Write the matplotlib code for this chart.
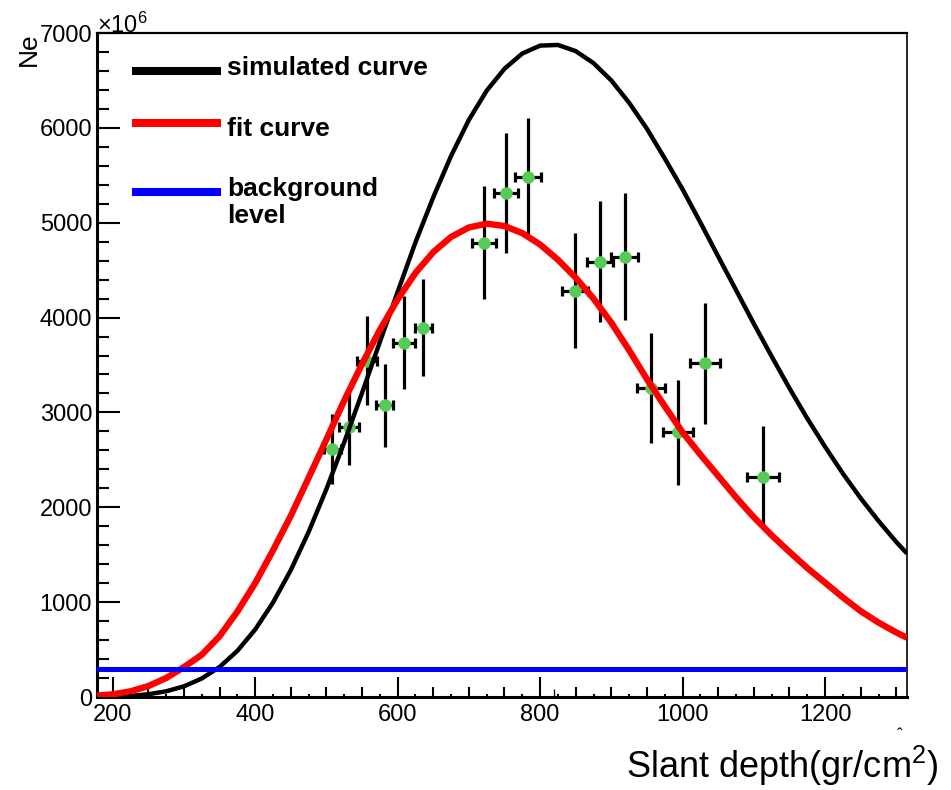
import numpy as np
import matplotlib
matplotlib.use("Agg")
import matplotlib.pyplot as plt
from matplotlib.ticker import MultipleLocator, FixedLocator, NullFormatter

plt.rcParams['font.family'] = ['Liberation Sans', 'DejaVu Sans']
plt.rcParams['mathtext.fontset'] = 'custom'
plt.rcParams['mathtext.rm'] = 'Liberation Sans'
plt.rcParams['mathtext.it'] = 'Liberation Sans:italic'
plt.rcParams['mathtext.bf'] = 'Liberation Sans:bold'

# measured points (slant depth, Ne in units of 1e6)
depth = [508, 532, 557, 582, 609, 636, 721, 752, 783, 849, 884, 919, 956, 994, 1032, 1113]
depth_err = [12, 14, 14, 12, 16, 12, 17, 17, 18, 18, 18, 19, 20, 21, 21, 22]
ne = [2611, 2842, 3547, 3074, 3737, 3895, 4789, 5316, 5484, 4284, 4589, 4642, 3253, 2789, 3516, 2316]
ne_err = [370, 400, 470, 440, 490, 515, 595, 635, 620, 610, 640, 670, 580, 550, 635, 540]

# stray point sitting on the x axis
stray_depth = [819]
stray_depth_err = [17]
stray_ne = [0]
stray_ne_err = [85]

# simulated curve
sim_x = [178, 200, 225, 250, 275, 300, 325, 350, 375, 400, 425, 450, 475, 500, 525, 550, 575,
         600, 625, 650, 675, 700, 725, 750, 775, 800, 825, 850, 875, 900, 925, 950, 975,
         1000, 1025, 1050, 1075, 1100, 1125, 1150, 1175, 1200, 1225, 1250, 1275, 1300, 1315]
sim_y = [2, 5, 12, 29, 60, 112, 195, 316, 486, 711, 995, 1337, 1739, 2191, 2685, 3205, 3742,
         4270, 4793, 5268, 5704, 6084, 6392, 6623, 6784, 6867, 6874, 6809, 6682, 6499, 6264, 5990, 5677,
         5352, 5002, 4644, 4290, 3935, 3591, 3255, 2937, 2638, 2356, 2095, 1856, 1634, 1513]

# fit curve
fit_x = [178, 200, 225, 250, 275, 300, 325, 350, 375, 400, 425, 450, 475, 500, 525, 550, 575,
         600, 625, 650, 675, 700, 725, 750, 775, 800, 825, 850, 875, 900, 925, 950, 975,
         1000, 1025, 1050, 1075, 1100, 1125, 1150, 1175, 1200, 1225, 1250, 1275, 1300, 1315]
fit_y = [15, 28, 60, 115, 200, 315, 445, 640, 900, 1200, 1545, 1910, 2310, 2715, 3125, 3510, 3870,
         4190, 4470, 4690, 4850, 4950, 4990, 4965, 4890, 4770, 4610, 4420, 4200, 3945, 3655, 3350, 3065,
         2790, 2555, 2330, 2105, 1895, 1705, 1530, 1360, 1205, 1050, 905, 785, 680, 625]

background = 290

legend_labels = ["simulated curve", "fit curve", "background", "level"]
legend_colors = ["black", "#ff0000", "#0000ff"]

W, H = 951, 790
fig = plt.figure(figsize=(W / 100, H / 100), dpi=100)
ax = fig.add_axes([97 / W, 1 - 697 / H, (907 - 97) / W, (697 - 33) / H])
ax.set_xlim(178, 1315)
ax.set_ylim(0, 7000)

# data points
ax.errorbar(depth, ne, yerr=ne_err, fmt='none', ecolor='black', elinewidth=2.3, capsize=0, zorder=2)
ax.errorbar(depth, ne, xerr=depth_err, fmt='none', ecolor='black', elinewidth=2.3,
            capsize=3.5, capthick=2.3, zorder=2)
ax.plot(depth, ne, 'o', color='#55cc55', markersize=9, markeredgewidth=0, zorder=3)
ax.errorbar(stray_depth, stray_ne, xerr=stray_depth_err, yerr=stray_ne_err, fmt='none',
            ecolor='black', elinewidth=0.9, capsize=0, zorder=2)

# curves
ax.plot(sim_x, sim_y, color='black', lw=3.2, solid_capstyle='butt', zorder=4)
ax.plot(fit_x, fit_y, color='#ff0000', lw=4.6, solid_capstyle='butt', zorder=5)
ax.axhline(background, color='#0000ff', lw=3.6, zorder=6)

# ticks, ROOT style (inside, left/bottom only)
ax.xaxis.set_major_locator(MultipleLocator(200))
ax.xaxis.set_minor_locator(MultipleLocator(50))
ax.yaxis.set_major_locator(MultipleLocator(1000))
ax.yaxis.set_minor_locator(MultipleLocator(200))
ax.tick_params(axis='x', which='major', direction='in', length=14.5, width=1.5, pad=5,
               labelsize=17, top=False)
ax.tick_params(axis='x', which='minor', direction='in', length=7.2, width=1.5, top=False)
ax.tick_params(axis='y', which='major', direction='in', length=16.5, width=1.5, pad=3.5,
               labelsize=17, right=False)
ax.tick_params(axis='y', which='minor', direction='in', length=8.6, width=1.5, right=False)

# tiny ticks every 25
ax2 = ax.twiny()
ax2.set_xlim(ax.get_xlim())
ax2.xaxis.set_ticks_position('bottom')
ax2.xaxis.set_major_locator(FixedLocator(np.arange(225, 1315, 50)))
ax2.xaxis.set_major_formatter(NullFormatter())
ax2.tick_params(axis='x', direction='in', length=2.2, width=1.5)
for s in ax2.spines.values():
    s.set_visible(False)
ax2.patch.set_visible(False)

ax.spines['left'].set_linewidth(2.2)
ax.spines['bottom'].set_linewidth(2.2)
ax.spines['top'].set_linewidth(1.6)
ax.spines['right'].set_linewidth(1.2)

# axis titles
fig.text(29 / W, 1 - 32 / H, "Ne", rotation=90, ha='center', va='top', fontsize=19)
fig.text(97 / W, 1 - 33 / H, "\u00d710$^{6}$", ha='left', va='baseline', fontsize=17)
fig.text(938 / W, 1 - 778 / H, "Slant depth(gr/cm$^{2}$)", ha='right', va='baseline',
         fontsize=26)
fig.text(900 / W, 1 - 740 / H, "\u02c6", ha='center', va='baseline', fontsize=12)

# legend
line_y = [71, 123, 192]
text_base = [75, 136, 196, 223]
for col, yy in zip(legend_colors, line_y):
    fig.add_artist(plt.Line2D([132 / W, 221 / W], [1 - yy / H, 1 - yy / H], color=col,
                              lw=5.8, solid_capstyle='butt', transform=fig.transFigure))
for lab, yb in zip(legend_labels, text_base):
    fig.text(227 / W, 1 - yb / H, lab, ha='left', va='baseline',
             fontsize=19, fontweight='bold')

fig.savefig("out.png", dpi=100)
